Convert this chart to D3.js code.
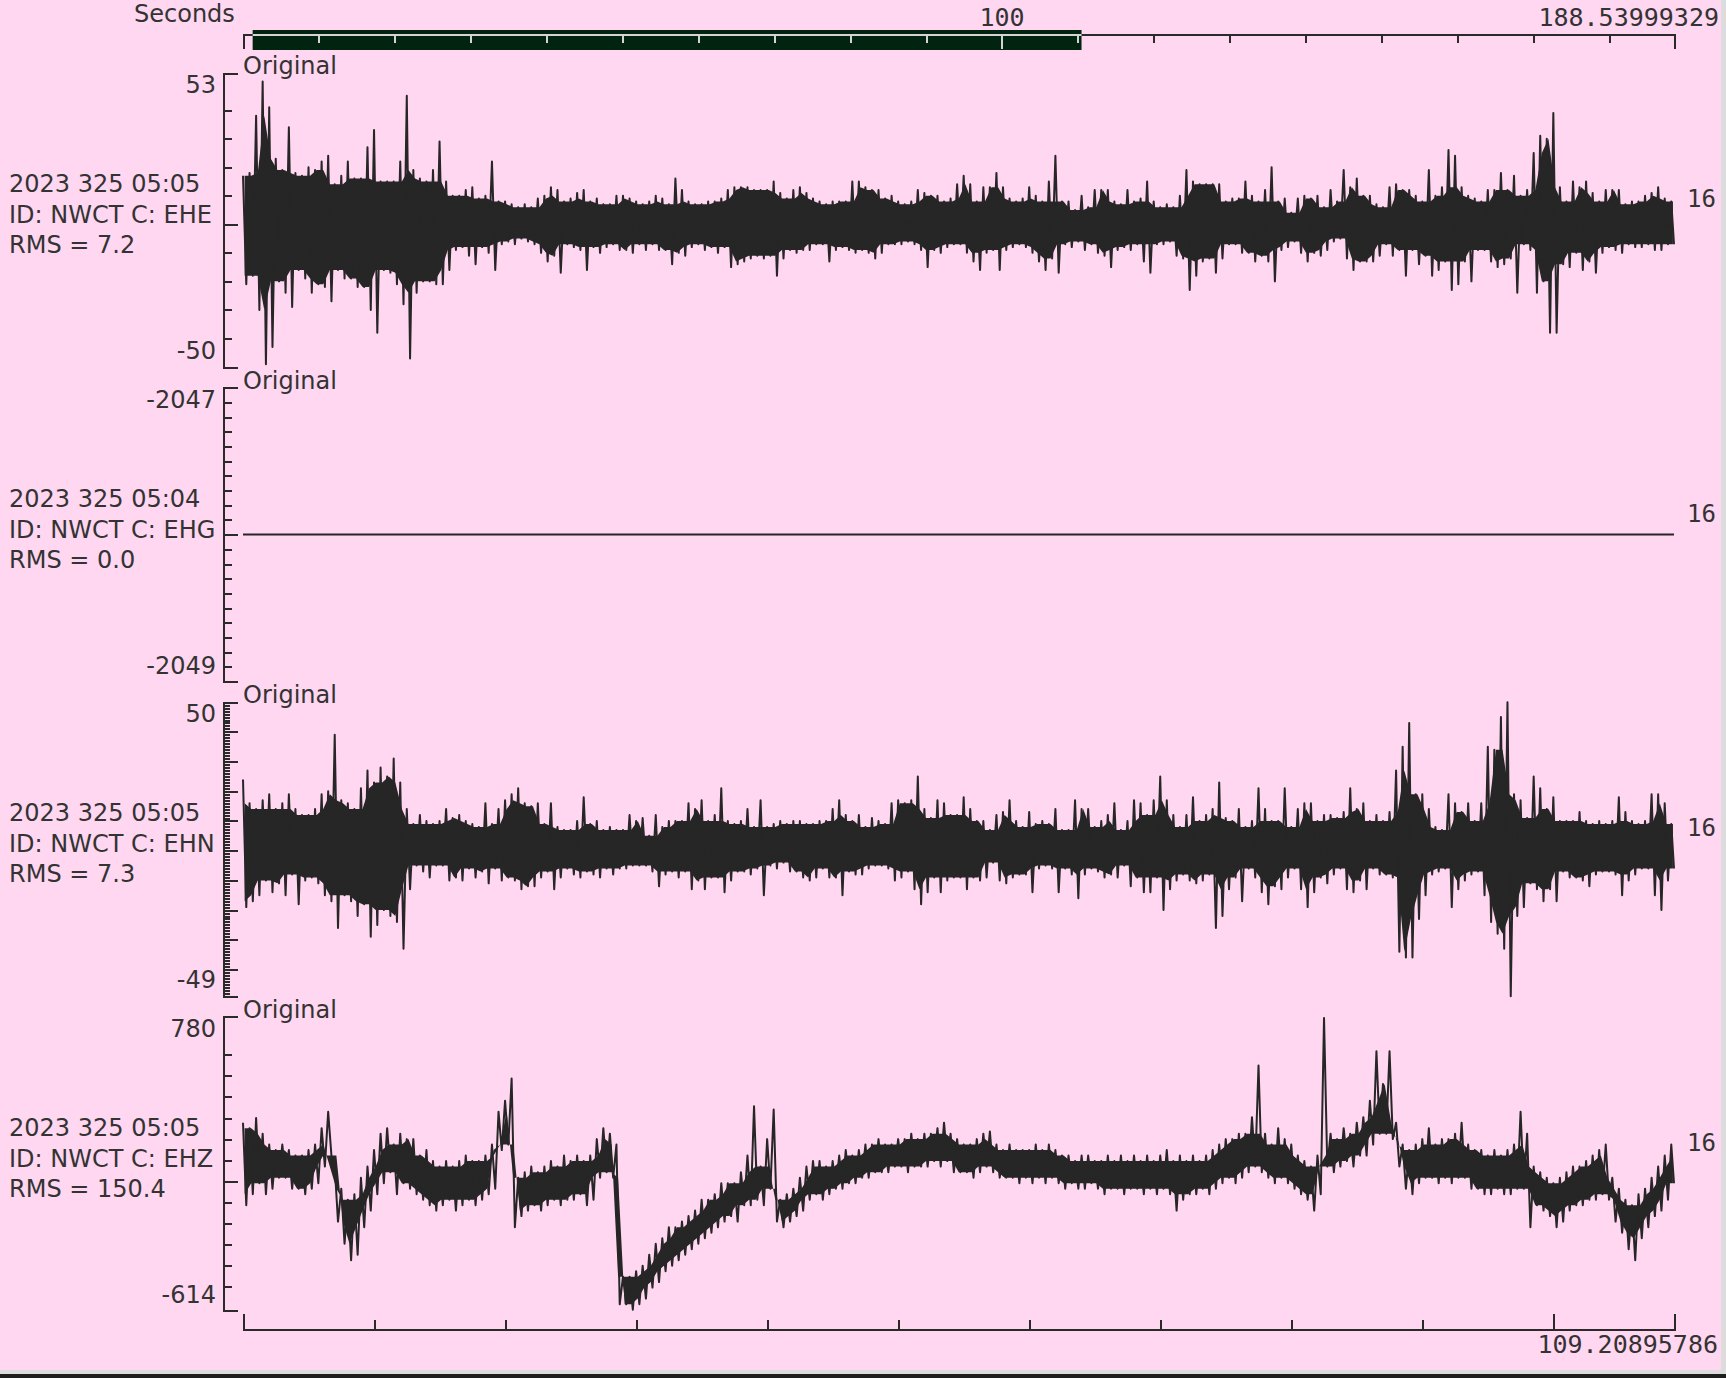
<html>

<head>
  <title>NWCT traces</title>
  <script src="https://d3js.org/d3.v7.min.js"></script>

  <style>
    body {
      margin: 0;
      background: #dcdcdc;
    }

    text {
      font-family: "DejaVu Sans", sans-serif;
      font-size: 24px;
      fill: #333;
    }

    text.mono {
      font-family: "DejaVu Sans Mono", monospace;
      font-size: 25px;
    }

    .axis path,
    .axis line {
      stroke: #2a2a2a;
      stroke-width: 2;
      shape-rendering: crispEdges;
    }

    .axis.light path,
    .axis.light line {
      stroke: #d4d4d4;
    }

    .axis text {
      display: none;
    }
  </style>

</head>

<body>
  <svg id="svg1" width=1726 height=1378></svg>

  <script>
    // ---- data ----
    const channels = ["EHE", "EHG", "EHN", "EHZ"];
    const stations = ["NWCT", "NWCT", "NWCT", "NWCT"];
    const startTimes = ["2023 325 05:05", "2023 325 05:04", "2023 325 05:05", "2023 325 05:05"];
    const rmsValues = ["7.2", "0.0", "7.3", "150.4"];
    const yTopValues = [53, -2047, 50, 780];
    const yBottomValues = [-50, -2049, -49, -614];
    const rightLabels = ["16", "16", "16", "16"];
    const tickSteps = [10, 0.1, 1, 100];
    const longTickSteps = [null, null, 10, null];

    const totalSeconds = 188.53999329;
    const windowSeconds = 109.20895786;
    const windowStart = 1.27;
    const topTickLabels = [100];
    const topLongTicks = [100];
    const bottomLongTicks = [100];

    // envelope per half second: max then min
    const binStep = 0.5;

    const eheMax = [
      17, 18, 38, 50, 41, 23, 19, 34, 18, 17,
      20, 19, 22, 24, 14, 17, 22, 16, 16, 27,
      33, 15, 15, 15, 22, 45, 19, 16, 15, 19,
      29, 15, 10, 10, 12, 13, 9, 10, 22, 8,
      8, 7, 6, 7, 6, 9, 10, 13, 12, 8,
      9, 11, 12, 8, 9, 7, 7, 10, 10, 9,
      8, 7, 8, 10, 9, 7, 16, 12, 8, 7,
      7, 8, 8, 9, 12, 13, 13, 13, 12, 12,
      12, 15, 11, 9, 12, 13, 11, 9, 8, 7,
      8, 8, 8, 15, 15, 13, 12, 12, 9, 10,
      8, 7, 8, 12, 11, 10, 10, 8, 9, 14,
      17, 14, 8, 13, 13, 18, 13, 9, 8, 9,
      13, 10, 8, 15, 24, 8, 8, 5, 10, 6,
      12, 12, 12, 8, 7, 12, 8, 9, 15, 8,
      6, 7, 6, 10, 19, 15, 14, 14, 14, 14,
      8, 9, 9, 15, 10, 8, 12, 20, 8, 9,
      4, 9, 10, 9, 10, 6, 12, 8, 19, 13,
      16, 10, 10, 7, 6, 13, 14, 12, 12, 10,
      8, 19, 10, 13, 26, 24, 13, 10, 9, 8,
      12, 12, 18, 12, 17, 10, 12, 25, 31, 30,
      39, 13, 8, 15, 13, 15, 11, 8, 12, 12,
      12, 7, 8, 8, 10, 11, 13, 9, 8
    ];
    const eheMin = [
      -21, -18, -30, -49, -43, -20, -24, -29, -16, -19,
      -24, -21, -22, -27, -16, -19, -19, -22, -22, -30,
      -38, -16, -17, -21, -28, -47, -24, -20, -20, -21,
      -21, -16, -9, -8, -11, -14, -8, -10, -16, -7,
      -6, -7, -5, -6, -7, -10, -13, -11, -17, -7,
      -8, -9, -16, -8, -10, -8, -7, -9, -9, -10,
      -7, -9, -7, -9, -9, -14, -10, -11, -8, -7,
      -9, -8, -10, -8, -15, -14, -13, -12, -11, -12,
      -11, -18, -12, -9, -10, -9, -9, -7, -7, -13,
      -9, -8, -9, -10, -9, -10, -12, -10, -7, -7,
      -7, -6, -7, -9, -15, -9, -10, -8, -7, -7,
      -10, -13, -16, -10, -9, -16, -9, -8, -7, -8,
      -10, -13, -16, -12, -17, -7, -8, -6, -9, -7,
      -10, -11, -15, -9, -8, -9, -7, -13, -17, -7,
      -7, -6, -11, -12, -23, -18, -13, -12, -17, -12,
      -7, -7, -10, -10, -13, -11, -13, -20, -9, -8,
      -6, -10, -13, -10, -11, -9, -6, -5, -12, -16,
      -13, -13, -13, -11, -7, -11, -9, -18, -9, -14,
      -11, -18, -16, -13, -23, -21, -13, -20, -9, -9,
      -13, -15, -14, -12, -24, -7, -9, -24, -20, -38,
      -38, -14, -15, -10, -16, -13, -17, -10, -8, -9,
      -10, -7, -8, -8, -7, -9, -9, -7, -7
    ];

    const ehgTimes = [0, 109.20895786];
    const ehgValues = [-2048, -2048];

    const ehnMax = [
      24, 16, 14, 17, 19, 14, 16, 19, 14, 12,
      12, 14, 19, 20, 39, 17, 16, 14, 21, 27,
      23, 28, 25, 31, 23, 14, 9, 12, 10, 9,
      10, 14, 11, 12, 10, 9, 8, 16, 9, 14,
      17, 19, 21, 16, 15, 16, 9, 16, 8, 7,
      7, 10, 18, 9, 10, 7, 8, 7, 7, 12,
      10, 11, 5, 12, 8, 10, 10, 10, 16, 14,
      17, 10, 12, 21, 10, 9, 10, 14, 8, 17,
      8, 9, 10, 9, 10, 10, 9, 9, 10, 10,
      14, 17, 12, 10, 12, 8, 11, 10, 9, 16,
      17, 16, 17, 25, 14, 11, 17, 16, 12, 12,
      18, 14, 10, 10, 7, 12, 13, 17, 10, 8,
      13, 9, 10, 9, 14, 7, 7, 17, 14, 14,
      8, 10, 12, 16, 7, 10, 17, 16, 12, 17,
      25, 17, 12, 8, 12, 18, 10, 12, 14, 23,
      11, 10, 14, 8, 10, 21, 14, 10, 10, 21,
      8, 14, 16, 16, 10, 12, 12, 11, 13, 21,
      14, 16, 10, 12, 10, 13, 27, 35, 43, 19,
      19, 14, 8, 7, 19, 16, 13, 16, 10, 16,
      35, 34, 45, 50, 19, 17, 11, 25, 21, 14,
      18, 10, 10, 10, 13, 10, 9, 10, 9, 10,
      18, 13, 10, 9, 10, 19, 19, 16, 9
    ];
    const ehnMin = [
      -19, -17, -15, -10, -14, -11, -15, -8, -18, -10,
      -9, -11, -15, -17, -26, -15, -17, -22, -18, -29,
      -25, -20, -22, -24, -33, -13, -5, -7, -9, -5,
      -5, -10, -9, -10, -6, -9, -7, -11, -6, -10,
      -9, -10, -13, -12, -12, -9, -7, -13, -9, -6,
      -8, -9, -7, -8, -9, -6, -8, -6, -6, -5,
      -5, -5, -7, -12, -8, -7, -9, -7, -13, -10,
      -13, -9, -9, -14, -10, -7, -7, -8, -6, -15,
      -5, -6, -4, -7, -7, -9, -10, -9, -6, -9,
      -9, -15, -7, -8, -8, -6, -5, -5, -6, -10,
      -9, -7, -13, -18, -14, -9, -14, -10, -9, -9,
      -13, -9, -10, -9, -4, -10, -11, -9, -8, -8,
      -14, -6, -5, -6, -14, -6, -8, -16, -8, -6,
      -7, -9, -8, -9, -5, -12, -9, -14, -14, -9,
      -20, -13, -10, -8, -10, -11, -10, -8, -26, -22,
      -13, -9, -17, -6, -9, -14, -18, -12, -13, -9,
      -6, -13, -19, -14, -9, -11, -8, -6, -13, -14,
      -10, -13, -6, -8, -8, -9, -34, -36, -36, -23,
      -15, -8, -7, -6, -19, -13, -10, -8, -7, -15,
      -24, -28, -33, -49, -22, -19, -11, -13, -17, -13,
      -17, -7, -9, -9, -10, -12, -8, -7, -7, -8,
      -15, -10, -8, -6, -6, -15, -20, -10, -6
    ];

    const ehzMax = [
      278, 252, 300, 226, 174, 148, 174, 148, 122, 122,
      148, 174, 252, 330, 70, -35, -87, -61, 17, 70,
      148, 226, 252, 174, 226, 200, 200, 122, 148, 96,
      70, 96, 70, 96, 122, 96, 96, 122, 174, 330,
      382, 487, 17, 43, 70, 43, 70, 96, 70, 122,
      96, 122, 96, 122, 200, 252, 226, 174, -452, -452,
      -426, -400, -348, -296, -270, -218, -218, -191, -165, -139,
      -87, -87, -61, -9, -9, -9, 43, 122, 356, 70,
      200, 340, -87, -61, -35, 17, 70, 96, 96, 70,
      96, 122, 148, 122, 148, 174, 174, 200, 174, 174,
      200, 200, 226, 200, 226, 226, 252, 278, 226, 200,
      174, 174, 200, 226, 236, 174, 148, 174, 148, 148,
      148, 174, 148, 174, 148, 122, 122, 96, 122, 122,
      96, 96, 122, 96, 122, 96, 122, 96, 122, 96,
      122, 148, 96, 122, 96, 122, 96, 122, 148, 174,
      200, 200, 226, 226, 304, 549, 226, 174, 252, 200,
      174, 122, 96, 70, 122, 774, 226, 200, 252, 226,
      278, 304, 382, 617, 461, 617, 278, 174, 148, 174,
      200, 252, 174, 200, 200, 226, 278, 174, 148, 148,
      122, 148, 122, 148, 174, 330, 226, 70, 43, 17,
      -9, 17, 43, 70, 70, 96, 122, 148, 174, 17,
      -35, -87, -113, -61, -35, 17, 70, 122, 174
    ];
    const ehzMin = [
      -113, -61, -9, -61, -35, 17, 17, -35, -35, -61,
      -35, -9, 70, 122, -191, -296, -374, -348, -218, -139,
      -61, -9, 43, -61, -9, -35, -61, -87, -113, -139,
      -113, -87, -139, -113, -87, -113, -87, -61, -35, 148,
      174, -218, -165, -139, -113, -139, -113, -87, -113, -87,
      -87, -61, -113, -87, 17, 43, 17, -583, -583, -609,
      -583, -556, -504, -478, -426, -400, -374, -348, -322, -296,
      -270, -244, -218, -191, -165, -191, -113, -113, -87, -113,
      -35, -191, -218, -191, -165, -139, -87, -61, -87, -61,
      -35, -35, -9, -9, 17, 17, 43, 43, 43, 70,
      70, 43, 70, 70, 70, 96, 70, 96, 43, 43,
      43, 17, 43, 70, 43, 17, 17, 17, -9, 17,
      -9, 17, -9, 17, -9, -35, -9, -35, -35, -9,
      -35, -61, -35, -35, -61, -35, -35, -61, -35, -61,
      -35, -61, -139, -87, -61, -61, -35, -61, -35, -9,
      17, -9, 17, 43, 70, 43, 17, -9, 17, -9,
      -35, -61, -87, -139, -61, 70, 43, 70, 96, 70,
      122, 122, 174, 226, 226, 200, 70, -35, -61, -9,
      17, 17, -9, 17, -9, 17, 17, -35, -35, -61,
      -61, -35, -61, -61, -35, -35, -218, -113, -139, -165,
      -218, -191, -139, -113, -113, -87, -87, -61, -87, -191,
      -244, -322, -374, -270, -218, -165, -139, -87, -9
    ];

    // ---- layout ----
    const svg = d3.select("svg#svg1");
    const plotLeft = 243;
    const plotRight = 1674;
    const axisX = 223;
    const panelTop0 = 73;
    const panelGap = 314.6;
    const panelHeight = 294;
    const tickEdgeGap = [10, 10, 2, 18];
    const traceColor = "#262626";

    // page: pink area with a grey frame at right/bottom
    svg.append("rect").attr("x", 0).attr("y", 0).attr("width", 1726).attr("height", 1378).attr("fill", "#dcdcdc");
    svg.append("rect").attr("x", 0).attr("y", 0).attr("width", 1721).attr("height", 1370).attr("fill", "#ffd7f0");
    svg.append("rect").attr("x", 0).attr("y", 1374).attr("width", 1726).attr("height", 4).attr("fill", "#1e1e1e");

    const xScale = d3.scaleLinear().domain([0, windowSeconds]).range([plotLeft, plotRight]);
    const xTotal = d3.scaleLinear().domain([0, totalSeconds]).range([plotLeft, plotRight]);

    // ---- top scroll axis ----
    const topTicks = d3.range(0, totalSeconds, 10);
    const topAxis = d3.axisBottom(xTotal).tickValues(topTicks).tickSize(9).tickSizeOuter(15);
    const topLong = d3.axisBottom(xTotal).tickValues(topLongTicks).tickSize(15).tickSizeOuter(0);

    svg.append("g").attr("class", "axis").attr("transform", "translate(0,34)").call(topAxis);
    svg.append("g").attr("class", "axis").attr("transform", "translate(0,34)").call(topLong)
      .select(".domain").remove();

    const barX0 = xTotal(windowStart);
    const barX1 = xTotal(windowStart + windowSeconds);
    svg.append("rect")
      .attr("x", barX0).attr("y", 30)
      .attr("width", barX1 - barX0).attr("height", 20)
      .attr("fill", "#002410");

    svg.append("clipPath").attr("id", "barClip")
      .append("rect").attr("x", barX0).attr("y", 30).attr("width", barX1 - barX0).attr("height", 20);

    const lightG = svg.append("g").attr("clip-path", "url(#barClip)");
    lightG.append("g").attr("class", "axis light").attr("transform", "translate(0,34)").call(topAxis);
    lightG.append("g").attr("class", "axis light").attr("transform", "translate(0,34)").call(topLong)
      .select(".domain").remove();

    svg.append("text").attr("x", 134).attr("y", 22).text("Seconds");
    topTickLabels.forEach(v => {
      svg.append("text").attr("class", "mono")
        .attr("x", xTotal(v)).attr("y", 26)
        .attr("text-anchor", "middle")
        .text(v);
    });
    svg.append("text").attr("class", "mono")
      .attr("x", 1719).attr("y", 26)
      .attr("text-anchor", "end")
      .text(totalSeconds.toFixed(8));

    // ---- panels ----
    const maxSeries = [eheMax, null, ehnMax, ehzMax];
    const minSeries = [eheMin, null, ehnMin, ehzMin];

    channels.forEach((ch, k) => {
      const top = panelTop0 + k * panelGap;
      const bottom = top + panelHeight;
      const yScale = d3.scaleLinear().domain([yBottomValues[k], yTopValues[k]]).range([bottom, top]);

      // ticks
      const step = tickSteps[k];
      let ticks = d3.range(Math.ceil(yBottomValues[k] / step), Math.floor(yTopValues[k] / step) + 1)
        .map(n => +(n * step).toFixed(4))
        .filter(v => Math.abs(yScale(v) - top) > tickEdgeGap[k] && Math.abs(yScale(v) - bottom) > tickEdgeGap[k]);

      let longTicks;
      if (longTickSteps[k]) {
        const ls = longTickSteps[k];
        longTicks = ticks.filter(v => Math.abs(v / ls - Math.round(v / ls)) < 1e-6);
      } else {
        const mid = k == 1 ? -2048 : 0;
        longTicks = ticks.filter(v => v == mid);
      }
      const shortTicks = ticks.filter(v => !longTicks.includes(v));

      const g = svg.append("g").attr("transform", `translate(${axisX},0)`);
      g.append("g").attr("class", "axis")
        .call(d3.axisRight(yScale).tickValues(shortTicks).tickSize(k == 2 ? 7 : 9).tickSizeOuter(15));
      g.append("g").attr("class", "axis")
        .call(d3.axisRight(yScale).tickValues(longTicks).tickSize(15).tickSizeOuter(0))
        .select(".domain").remove();

      // axis end labels
      svg.append("text").attr("x", 216).attr("y", top + 20).attr("text-anchor", "end").text(yTopValues[k]);
      svg.append("text").attr("x", 216).attr("y", bottom - 8).attr("text-anchor", "end").text(yBottomValues[k]);

      svg.append("text").attr("x", 243).attr("y", top + 1).text("Original");

      // station block
      svg.append("text").attr("x", 9).attr("y", top + 119).text(startTimes[k]);
      svg.append("text").attr("x", 9).attr("y", top + 150).text(`ID: ${stations[k]} C: ${ch}`);
      svg.append("text").attr("x", 9).attr("y", top + 180).text(`RMS = ${rmsValues[k]}`);

      svg.append("text").attr("class", "mono")
        .attr("x", 1687).attr("y", top + 134)
        .style("font-size", "24px")
        .text(rightLabels[k]);

      // trace
      if (k == 1) {
        const flat = ehgTimes.map((t, i) => [t, ehgValues[i]]);
        svg.append("path")
          .attr("d", d3.line().x(d => xScale(d[0])).y(d => yScale(d[1]))(flat))
          .attr("fill", "none")
          .attr("stroke", traceColor)
          .attr("stroke-width", 2);
        return;
      }

      const hi = maxSeries[k];
      const lo = minSeries[k];
      const n = hi.length;

      // solid core: what the neighbouring half-seconds all reach
      const core = hi.map((v, i) => ({
        t: Math.min(i * binStep + binStep / 4, windowSeconds),
        top: d3.min([hi[Math.max(i - 1, 0)], v, hi[Math.min(i + 1, n - 1)]]),
        bot: d3.max([lo[Math.max(i - 1, 0)], lo[i], lo[Math.min(i + 1, n - 1)]])
      }));
      svg.append("path")
        .attr("d", d3.area()
          .x(d => xScale(d.t))
          .y0(d => yScale(d.bot))
          .y1(d => yScale(d.top))(core))
        .attr("fill", traceColor);

      // spikes: max / min zigzag
      const pts = [];
      hi.forEach((v, i) => {
        pts.push([i * binStep, v]);
        pts.push([Math.min(i * binStep + binStep / 2, windowSeconds), lo[i]]);
      });
      svg.append("path")
        .attr("d", d3.line().x(d => xScale(d[0])).y(d => yScale(d[1]))(pts))
        .attr("fill", "none")
        .attr("stroke", traceColor)
        .attr("stroke-width", 2)
        .attr("stroke-linejoin", "round");
    });

    // ---- bottom time axis ----
    const botTicks = d3.range(0, windowSeconds, 10);
    svg.append("g").attr("class", "axis").attr("transform", "translate(0,1329)")
      .call(d3.axisTop(xScale).tickValues(botTicks).tickSize(9).tickSizeOuter(15));
    svg.append("g").attr("class", "axis").attr("transform", "translate(0,1329)")
      .call(d3.axisTop(xScale).tickValues([0].concat(bottomLongTicks)).tickSize(15).tickSizeOuter(0))
      .select(".domain").remove();

    svg.append("text").attr("class", "mono")
      .attr("x", 1718).attr("y", 1353)
      .attr("text-anchor", "end")
      .text(windowSeconds.toFixed(8));
  </script>

</body>

</html>
